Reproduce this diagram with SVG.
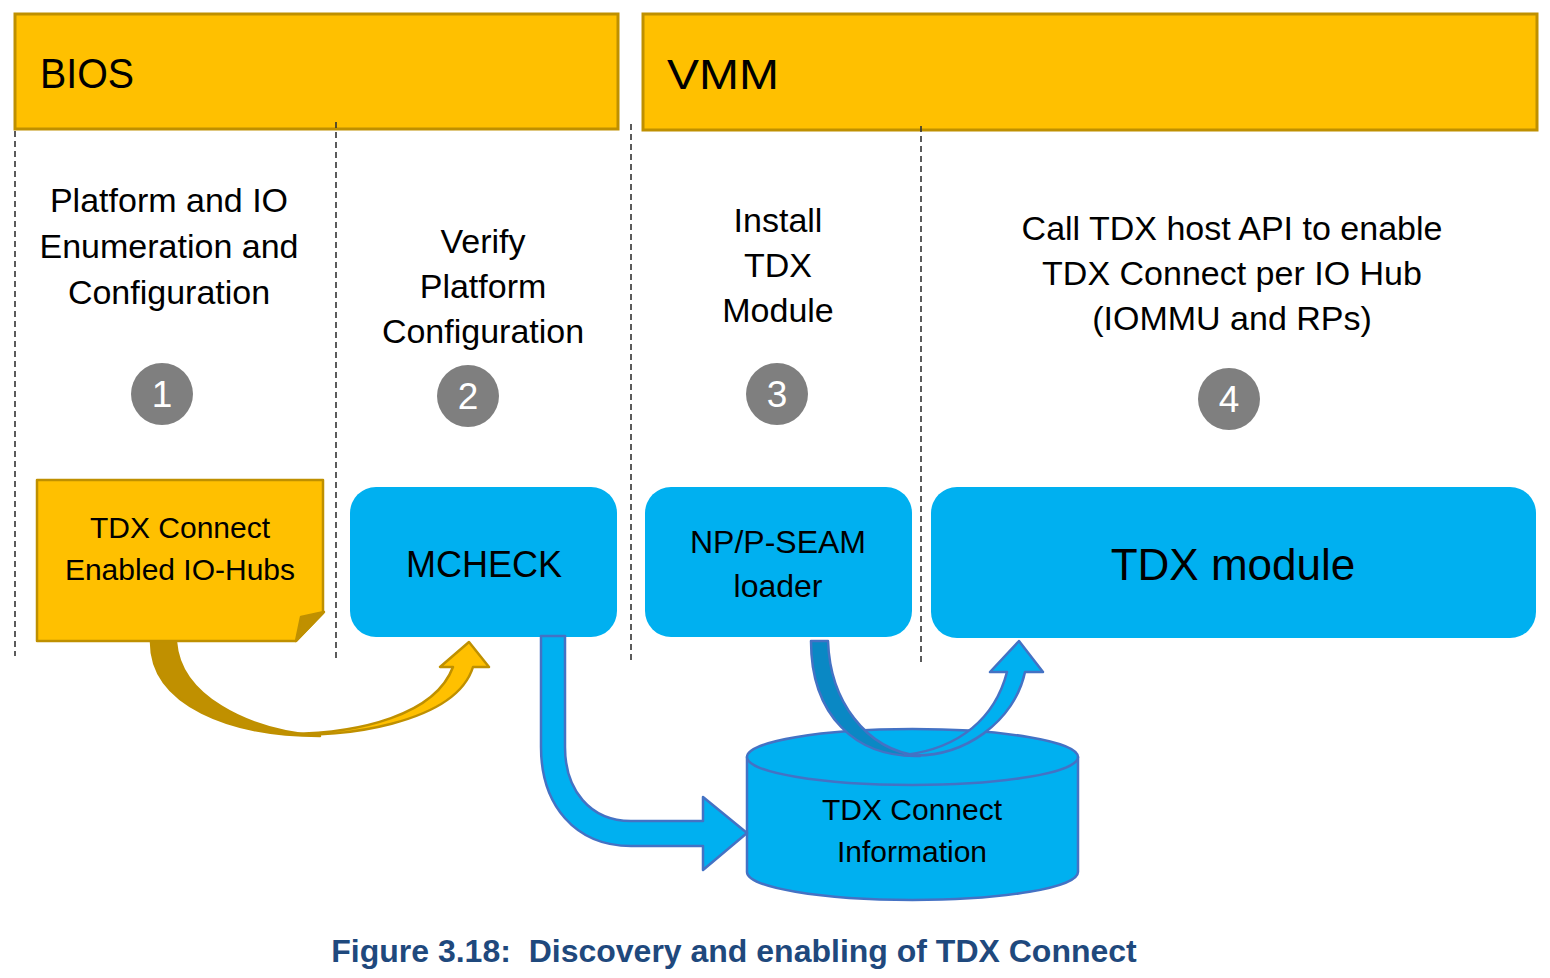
<svg xmlns="http://www.w3.org/2000/svg" width="1550" height="978" viewBox="0 0 1550 978">
<style>
text{font-family:"Liberation Sans",Arial,sans-serif;fill:#000;text-anchor:middle}
.hdr{fill:#ffc000;stroke:#bf9000;stroke-width:3}
.hdrt{font-size:43px;text-anchor:start}
.dash{stroke:#333;stroke-width:1.6;stroke-dasharray:6 4;fill:none}
.step{font-size:34px}
.num{fill:#7f7f7f}
.numt{font-size:37px;fill:#fff}
.blue{fill:#00b0f0}
.bstroke{fill:#00b0f0;stroke:#4472c4;stroke-width:2.5;stroke-linejoin:round}
.bdark{fill:#0a88c4;stroke:#4472c4;stroke-width:2.5;stroke-linejoin:round}
.gold{fill:#ffc000;stroke:#bf9000;stroke-width:2.5;stroke-linejoin:round}
.golddark{fill:#c09000;stroke:#bf9000;stroke-width:2.5;stroke-linejoin:round}
.title{font-size:32px;font-weight:bold;fill:#1f497d;white-space:pre}
</style>

<g id="bios-header">
<rect class="hdr" x="15" y="14" width="603" height="115"/>
<text class="hdrt" x="40" y="88" textLength="94" lengthAdjust="spacingAndGlyphs">BIOS</text>
</g>
<g id="vmm-header">
<rect class="hdr" x="643" y="14" width="894" height="116"/>
<text class="hdrt" x="667" y="89" textLength="112" lengthAdjust="spacingAndGlyphs">VMM</text>
</g>

<g id="separators">
<line class="dash" x1="15" y1="131" x2="15" y2="656"/>
<line class="dash" x1="336" y1="122" x2="336" y2="658"/>
<line class="dash" x1="631" y1="124" x2="631" y2="660"/>
<line class="dash" x1="921" y1="126" x2="921" y2="662"/>
</g>

<g id="step1">
<text class="step" x="169" y="212">Platform and IO</text>
<text class="step" x="169" y="258">Enumeration and</text>
<text class="step" x="169" y="304">Configuration</text>
<circle class="num" cx="162" cy="394" r="31"/>
<text class="numt" x="162" y="407">1</text>
</g>
<g id="step2">
<text class="step" x="483" y="253">Verify</text>
<text class="step" x="483" y="298">Platform</text>
<text class="step" x="483" y="343">Configuration</text>
<circle class="num" cx="468" cy="396" r="31"/>
<text class="numt" x="468" y="409">2</text>
</g>
<g id="step3">
<text class="step" x="778" y="232">Install</text>
<text class="step" x="778" y="277">TDX</text>
<text class="step" x="778" y="322">Module</text>
<circle class="num" cx="777" cy="394" r="31"/>
<text class="numt" x="777" y="407">3</text>
</g>
<g id="step4">
<text class="step" x="1232" y="240">Call TDX host API to enable</text>
<text class="step" x="1232" y="285">TDX Connect per IO Hub</text>
<text class="step" x="1232" y="330">(IOMMU and RPs)</text>
<circle class="num" cx="1229" cy="399" r="31"/>
<text class="numt" x="1229" y="412">4</text>
</g>

<g id="io-hubs-note">
<path class="gold" d="M37,480 L323,480 L323,613 L296,641 L37,641 Z"/>
<path class="golddark" d="M296,641 L301,617 L324,612 Z"/>
<text x="180" y="538" style="font-size:30px">TDX Connect</text>
<text x="180" y="580" style="font-size:30px">Enabled IO-Hubs</text>
</g>

<g id="mcheck">
<rect class="blue" x="350" y="487" width="267" height="150" rx="26"/>
<text x="484" y="577" style="font-size:36px">MCHECK</text>
</g>

<g id="seam-loader">
<rect class="blue" x="645" y="487" width="267" height="150" rx="26"/>
<text x="778" y="553" style="font-size:32px">NP/P-SEAM</text>
<text x="778" y="597" style="font-size:32px">loader</text>
</g>

<g id="tdx-module">
<rect class="blue" x="931" y="487" width="605" height="151" rx="26"/>
<text x="1233" y="580" style="font-size:44px">TDX module</text>
</g>

<g id="tdx-connect-info">
<path class="bstroke" d="M747,757 L747,872 A165.5,28 0 0 0 1078,872 L1078,757 Z"/>
<ellipse class="bstroke" cx="912.5" cy="757" rx="165.5" ry="28"/>
<text x="912" y="820" style="font-size:30px">TDX Connect</text>
<text x="912" y="862" style="font-size:30px">Information</text>
</g>

<g id="connectors">
<!-- orange curved arrow: IO hubs -> MCHECK -->
<path class="golddark" d="M151,642 C151,705 230,736 320,736 C245,730 180,695 176,642 Z"/>
<path class="gold" d="M290,734 C335,738 455,725 473,667 L489,667 L469,642 L440,667 L453,667 C435,715 360,733 290,734 Z"/>
<!-- blue L arrow: MCHECK -> TDX Connect Information -->
<path class="bstroke" d="M541,636 L565,636 L565,747 C565,790 590,821 631,821 L703,821 L703,797 L747,833 L703,870 L703,846 L631,846 C575,846 541,805 541,747 Z"/>
<!-- blue U arrow: loader -> info -> TDX module -->
<path class="bdark" d="M811,641 L828,641 C830,700 865,750 920,756 C855,758 811,715 811,641 Z"/>
<path class="bstroke" d="M905,755 C965,760 1015,720 1025,672 L1043,672 L1019,641 L990,672 L1007,672 C995,718 960,748 905,755 Z"/>
</g>

<g id="caption">
<text class="title" x="734" y="962">Figure 3.18:  Discovery and enabling of TDX Connect</text>
</g>
</svg>
